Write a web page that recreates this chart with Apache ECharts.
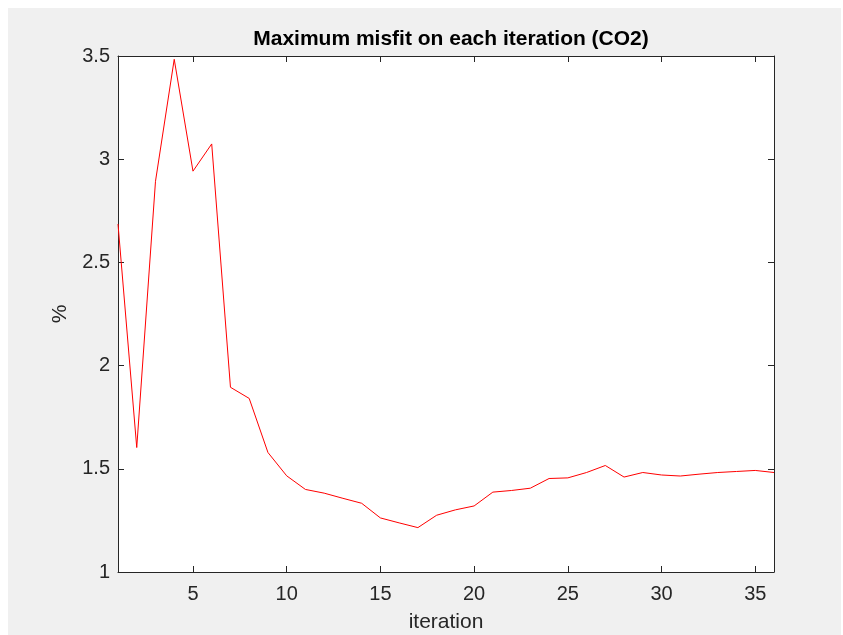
<!DOCTYPE html>
<html>
<head>
<meta charset="utf-8">
<script src="https://cdn.jsdelivr.net/npm/echarts@6/dist/echarts.min.js"></script>
<style>
html,body{margin:0;padding:0;background:#ffffff;}
#chart{width:843px;height:635px;}
</style>
</head>
<body>
<div id="chart"></div>
<script>
const iterations = [1,2,3,4,5,6,7,8,9,10,11,12,13,14,15,16,17,18,19,20,21,22,23,24,25,26,27,28,29,30,31,32,33,34,35,36];
const misfit = [2.686,1.603,2.893,3.484,2.942,3.074,1.895,1.841,1.579,1.466,1.400,1.382,1.357,1.333,1.262,1.238,1.215,1.275,1.301,1.320,1.387,1.395,1.406,1.453,1.456,1.482,1.516,1.460,1.482,1.470,1.465,1.474,1.482,1.487,1.492,1.482];
const xTicks = [5,10,15,20,25,30,35];
const yTicks = [1,1.5,2,2.5,3,3.5];

const chart = echarts.init(document.getElementById('chart'), null, {renderer:'canvas'});
const axisColor = '#262626';
const font = 'Liberation Sans, Arial, sans-serif';
const isTick = (idx, val) => xTicks.indexOf(Number(val)) >= 0;
const commonX = {
  type:'category', data: iterations.map(String), boundaryGap:false,
  axisLine:{show:true, lineStyle:{color:axisColor, width:1}},
  axisTick:{show:true, inside:true, length:6, interval:isTick, lineStyle:{color:axisColor}},
  splitLine:{show:false}
};
const commonY = {
  type:'value', min:yTicks[0], max:yTicks[yTicks.length-1], interval:0.5,
  axisLine:{show:true, lineStyle:{color:axisColor, width:1}},
  axisTick:{show:true, inside:true, length:6, lineStyle:{color:axisColor}},
  splitLine:{show:false}
};
chart.setOption({
  backgroundColor:'#ffffff',
  animation:false,
  graphic:[{type:'rect', left:8, top:8, shape:{width:833, height:627}, style:{fill:'#f0f0f0'}, z:-10}],
  title:{
    text:'Maximum misfit on each iteration (CO2)',
    left:446, top:24, textAlign:'center',
    textStyle:{fontFamily:font, fontSize:21, fontWeight:'bold', color:'#000'}
  },
  grid:{left:118, right:69, top:56, bottom:63, show:true, backgroundColor:'#ffffff', borderWidth:0,
        containLabel:false, outerBoundsMode:'none'},
  xAxis:[
    Object.assign({}, commonX, {
      position:'bottom',
      name:'iteration', nameLocation:'middle', nameGap:40,
      nameTextStyle:{fontFamily:font, fontSize:21, color:axisColor},
      axisLabel:{show:true, interval:isTick, fontFamily:font, fontSize:20, color:axisColor, margin:12}
    }),
    Object.assign({}, commonX, {position:'top', axisLabel:{show:false}})
  ],
  yAxis:[
    Object.assign({}, commonY, {
      position:'left',
      name:'%', nameLocation:'middle', nameGap:47, nameRotate:90,
      nameTextStyle:{fontFamily:font, fontSize:21, color:axisColor},
      axisLabel:{show:true, fontFamily:font, fontSize:20, color:axisColor, margin:8,
        formatter: v => String(v)}
    }),
    Object.assign({}, commonY, {position:'right', axisLabel:{show:false}})
  ],
  series:[{
    type:'line',
    data: misfit,
    xAxisIndex:0, yAxisIndex:0,
    showSymbol:false, symbol:'none',
    lineStyle:{color:'#ff0000', width:1},
    clip:true
  }]
});
</script>
</body>
</html>
